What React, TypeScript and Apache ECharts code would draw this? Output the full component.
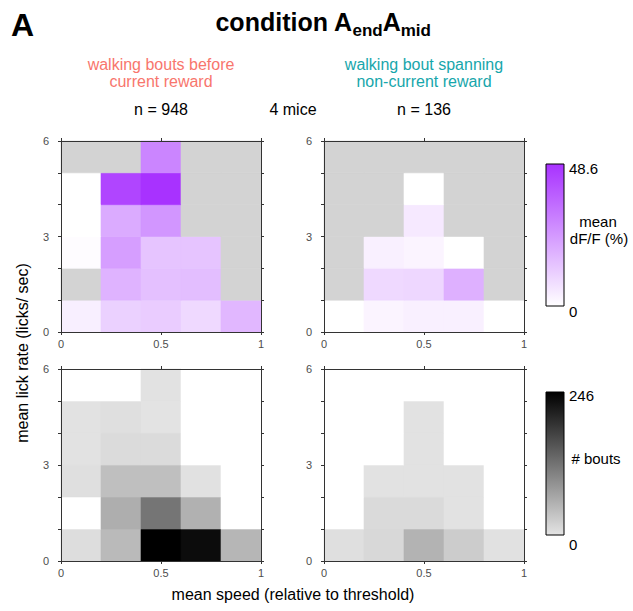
import React, { useEffect, useRef } from 'react';
import * as echarts from 'echarts';

// bin edges
const speedEdges = [0, 0.2, 0.4, 0.6, 0.8, 1.0];
const lickEdges = [0, 1, 2, 3, 4, 5, 6];

// rows: lick-rate bin 0–1 (bottom) ... 5–6 (top); columns: speed bins. null = no bouts
const dffBefore: (number | null)[][] = [
  [3.8, 11, 12, 9, 17],
  [null, 18, 15, 15.5, null],
  [0.8, 23, 14, 14, null],
  [0, 20, 25, null, null],
  [0, 44, 48.6, null, null],
  [null, null, 29, null, null],
];
const dffSpanning: (number | null)[][] = [
  [0, 2.5, 3.5, 3.5, 0],
  [null, 9, 9.5, 18.7, null],
  [null, 3.5, 2.5, 0, null],
  [null, null, 5.3, null, null],
  [null, null, 0, null, null],
  [null, null, null, null, null],
];
const boutsBefore: number[][] = [
  [8, 45, 246, 233, 50],
  [0, 58, 120, 55, 0],
  [5, 40, 40, 3, 0],
  [2, 10, 10, 0, 0],
  [2, 5, 1, 0, 0],
  [0, 0, 2, 0, 0],
];
const boutsSpanning: number[][] = [
  [5, 13, 53, 26, 3],
  [0, 11, 11, 2, 0],
  [0, 2, 2, 2, 0],
  [0, 0, 2, 0, 0],
  [0, 0, 2, 0, 0],
  [0, 0, 0, 0, 0],
];

const dffMax = 48.6;
const boutsMax = 246;
const speedTickLabels = [0, 0.5, 1];
const lickTickLabels = [0, 3, 6];
const nBefore = 948;
const nSpanning = 136;
const nMice = 4;

const FONT = '"Liberation Sans", Arial, Helvetica, sans-serif';
const NA_GRAY = '#d3d3d3';

function dffColor(v: number): string {
  const t = Math.max(0, Math.min(1, v / dffMax));
  const r = Math.round(255 + (168 - 255) * t);
  const g = Math.round(255 + (50 - 255) * t);
  return `rgb(${r},${g},255)`;
}
function boutColor(v: number): string {
  if (v <= 0) return '#ffffff';
  const t = Math.max(0, Math.min(1, v / boutsMax));
  const g = Math.round(228 * (1 - t));
  return `rgb(${g},${g},${g})`;
}

function buildCells(matrix: (number | null)[][]) {
  const out: number[][] = [];
  matrix.forEach((row, r) => {
    row.forEach((v, c) => {
      out.push([
        speedEdges[c], speedEdges[c + 1], lickEdges[r], lickEdges[r + 1],
        v === null ? 0 : v, v === null ? 1 : 0,
      ]);
    });
  });
  return out;
}

const panels = [
  { data: dffBefore, color: dffColor, left: 61, top: 141, height: 191 },
  { data: dffSpanning, color: dffColor, left: 324, top: 141, height: 191 },
  { data: boutsBefore, color: boutColor, left: 61, top: 369, height: 192 },
  { data: boutsSpanning, color: boutColor, left: 324, top: 369, height: 192 },
];

const AXIS_COLOR = '#333333';

export default function App() {
  const ref = useRef<HTMLDivElement>(null);
  useEffect(() => {
    if (!ref.current) return;
    const chart = echarts.init(ref.current, undefined, { renderer: 'svg' });
    const grids: any[] = [];
    const xAxes: any[] = [];
    const yAxes: any[] = [];
    const series: any[] = [];
    panels.forEach((p, i) => {
      grids.push({ left: p.left, top: p.top, width: 200, height: p.height, containLabel: false });
      const common = {
        gridIndex: i,
        type: 'value',
        axisLine: { show: true, onZero: false, lineStyle: { color: AXIS_COLOR, width: 1 } },
        axisTick: { show: true, inside: false, length: 3, lineStyle: { color: AXIS_COLOR, width: 1 } },
        splitLine: { show: false },
        z: 10,
      };
      xAxes.push({
        ...common, min: 0, max: 1, interval: 0.5, position: 'bottom',
        axisLabel: {
          show: true, margin: 6, fontSize: 11, color: '#4d4d4d', fontFamily: FONT,
          formatter: (v: number) => (speedTickLabels.some((t) => Math.abs(t - v) < 1e-9) ? String(v) : ''),
        },
      });
      xAxes.push({
        ...common, min: 0, max: 1, interval: 0.5, position: 'top', axisLabel: { show: false },
      });
      yAxes.push({
        ...common, min: 0, max: 6, interval: 1, position: 'left',
        axisLabel: {
          show: true, margin: 12, fontSize: 11, color: '#4d4d4d', fontFamily: FONT,
          formatter: (v: number) => (lickTickLabels.includes(v) ? String(v) : ''),
        },
      });
      yAxes.push({
        ...common, min: 0, max: 6, interval: 1, position: 'right', axisLabel: { show: false },
      });
      const colorFn = p.color;
      series.push({
        type: 'custom',
        coordinateSystem: 'cartesian2d',
        xAxisIndex: 2 * i,
        yAxisIndex: 2 * i,
        encode: { x: [0, 1], y: [2, 3] },
        data: buildCells(p.data as any),
        renderItem: (params: any, api: any) => {
          const a = api.coord([api.value(0), api.value(3)]);
          const b = api.coord([api.value(1), api.value(2)]);
          const missing = api.value(5) === 1;
          const fill = missing ? NA_GRAY : colorFn(api.value(4));
          return {
            type: 'rect',
            shape: { x: a[0], y: a[1], width: b[0] - a[0], height: b[1] - a[1] },
            style: { fill, stroke: fill, lineWidth: 0.6 },
          };
        },
      });
    });

    const txt = (x: number, y: number, text: string, extra: any = {}) => ({
      type: 'text', x, y, z: 100,
      style: {
        text, fontFamily: FONT, fontSize: 15, fill: '#000', align: 'center', verticalAlign: 'middle',
        ...extra,
      },
    });

    const graphic: any[] = [
      txt(11, 25, 'A', { fontSize: 32, fontWeight: 'bold', align: 'left' }),
      {
        type: 'text', x: 323, y: 22, z: 100,
        style: {
          text: '{m|condition A}{s|end}{m|A}{s|mid}',
          align: 'center', verticalAlign: 'middle', fontFamily: FONT,
          rich: {
            m: { fontSize: 25, fontWeight: 'bold', fontFamily: FONT, fill: '#000', lineHeight: 34, verticalAlign: 'middle' },
            s: { fontSize: 17, fontWeight: 'bold', fontFamily: FONT, fill: '#000', lineHeight: 34, verticalAlign: 'bottom' },
          },
        },
      },
      txt(161, 64, 'walking bouts before', { fill: '#f8766d', fontSize: 16 }),
      txt(161, 81, 'current reward', { fill: '#f8766d', fontSize: 16 }),
      txt(424, 64, 'walking bout spanning', { fill: '#17a6ab', fontSize: 16 }),
      txt(424, 81, 'non-current reward', { fill: '#17a6ab', fontSize: 16 }),
      txt(161, 109, `n = ${nBefore}`, { fontSize: 16 }),
      txt(293, 109, `${nMice} mice`, { fontSize: 16 }),
      txt(424, 109, `n = ${nSpanning}`, { fontSize: 16 }),
      txt(293, 594, 'mean speed (relative to threshold)', { fontSize: 16 }),
      {
        type: 'text', x: 22, y: 353, rotation: Math.PI / 2, z: 100,
        style: { text: 'mean lick rate (licks/ sec)', fontFamily: FONT, fontSize: 16, fill: '#000', align: 'center', verticalAlign: 'middle' },
      },
      // colour bar: mean dF/F
      {
        type: 'rect', z: 100,
        shape: { x: 546, y: 164, width: 18, height: 142 },
        style: {
          fill: { type: 'linear', x: 0, y: 0, x2: 0, y2: 1, colorStops: [
            { offset: 0, color: dffColor(dffMax) }, { offset: 1, color: dffColor(0) },
          ] },
          stroke: '#000', lineWidth: 1,
        },
      },
      txt(569, 168, String(dffMax), { align: 'left' }),
      txt(569, 311, '0', { align: 'left' }),
      txt(598, 221, 'mean'),
      txt(599, 238, 'dF/F (%)'),
      // colour bar: # bouts
      {
        type: 'rect', z: 100,
        shape: { x: 546, y: 392, width: 18, height: 143 },
        style: {
          fill: { type: 'linear', x: 0, y: 0, x2: 0, y2: 1, colorStops: [
            { offset: 0, color: boutColor(boutsMax) }, { offset: 1, color: 'rgb(228,228,228)' },
          ] },
          stroke: '#000', lineWidth: 1,
        },
      },
      txt(569, 395, String(boutsMax), { align: 'left' }),
      txt(569, 544, '0', { align: 'left' }),
      txt(596, 458, '# bouts'),
    ];

    chart.setOption({
      animation: false,
      backgroundColor: '#ffffff',
      grid: grids,
      xAxis: xAxes,
      yAxis: yAxes,
      series,
      graphic,
    });
    return () => chart.dispose();
  }, []);
  return <div ref={ref} style={{ position: 'fixed', left: 0, top: 0, width: 633, height: 611 }} />;
}
